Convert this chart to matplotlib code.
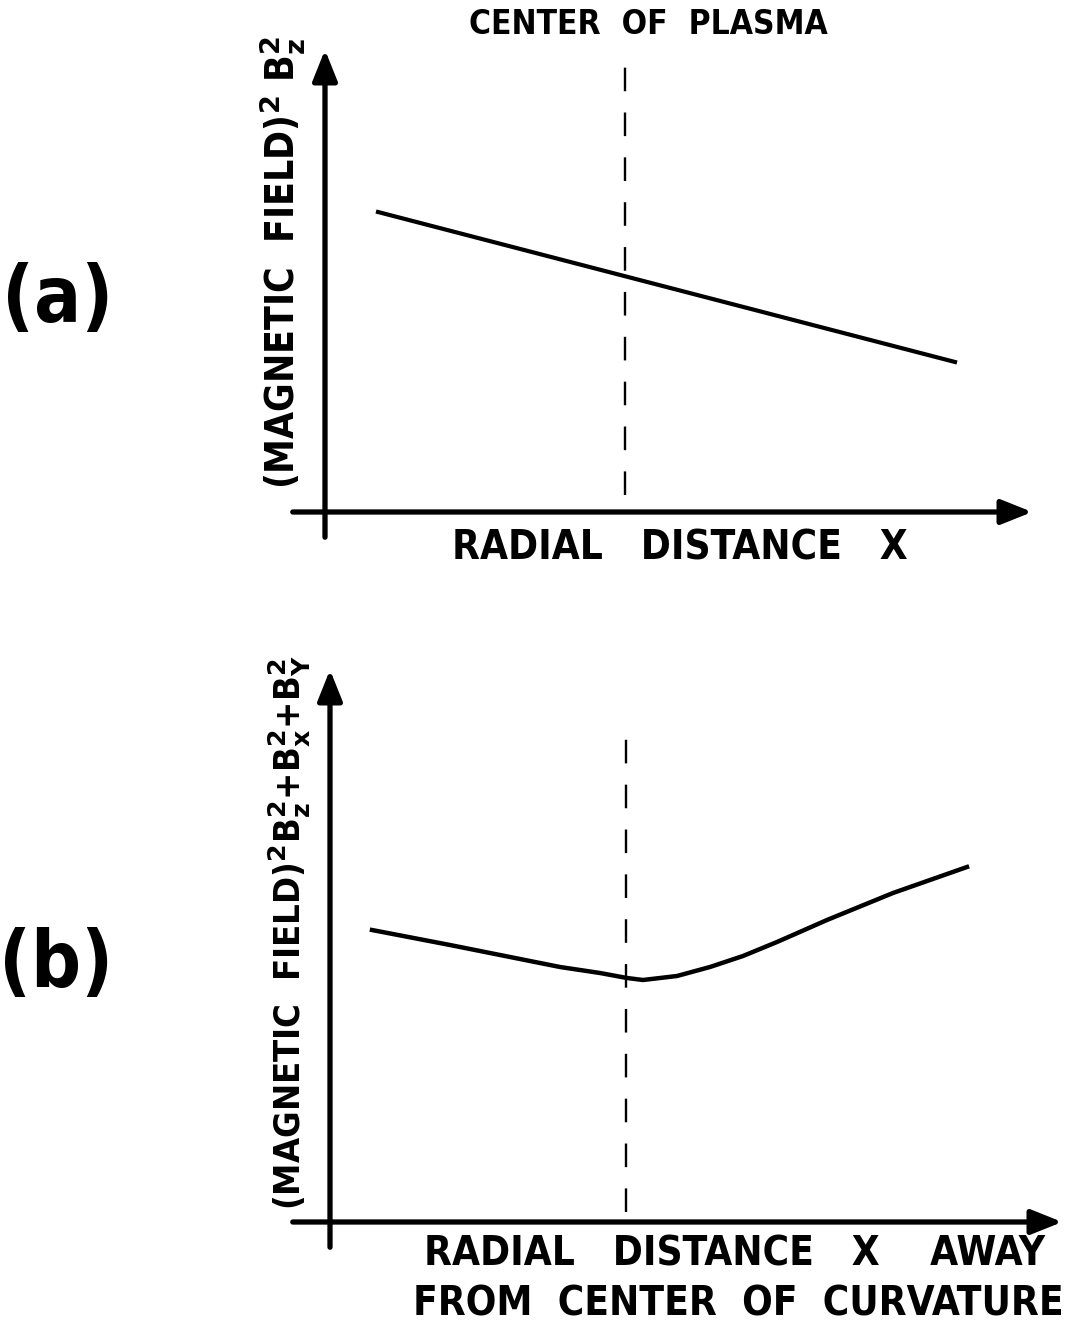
import matplotlib
matplotlib.use("Agg")
import matplotlib.pyplot as plt

# panel (a): straight falling line of B_z^2 vs radial distance
x_a = [0.53, 6.30]
y_a = [3.00, 1.50]
center_a = 3.0

# panel (b): total field squared, minimum near the plasma centre
x_b = [0.42, 1.20, 2.30, 2.70, 2.97, 3.13, 3.47, 3.80, 4.13, 4.47, 4.97, 5.63, 6.37]
y_b = [2.92, 2.77, 2.55, 2.49, 2.44, 2.42, 2.46, 2.55, 2.66, 2.80, 3.02, 3.29, 3.55]
center_b = 2.96

plt.rcParams['mathtext.fontset'] = 'custom'
plt.rcParams['mathtext.rm'] = 'DejaVu Sans:bold'
plt.rcParams['mathtext.bf'] = 'DejaVu Sans:bold'
plt.rcParams['mathtext.default'] = 'bf'
plt.rcParams['font.family'] = 'DejaVu Sans'

fig = plt.figure(figsize=(10.89, 13.28), dpi=100)
ax_a = fig.add_axes([0, 0.5, 1, 0.5])
ax_b = fig.add_axes([0, 0, 1, 0.5])

ax_a.set_xlim(-3.25, 7.64)
ax_a.set_ylim(-1.52, 5.12)
ax_b.set_xlim(-3.30, 7.59)
ax_b.set_ylim(-1.06, 5.58)

def draw_axes(ax, x_end, y_end, x_start, y_start):
    arrow = dict(arrowstyle='-|>,head_length=0.55,head_width=0.22', lw=3.8,
                 color='black', mutation_scale=34)
    ax.annotate('', xy=(x_end, 0), xytext=(x_start, 0), arrowprops=arrow)
    ax.annotate('', xy=(0, y_end), xytext=(0, y_start), arrowprops=arrow)

txt = dict(color='black', fontsize=29, ha='center', va='center',
           fontweight='bold', fontstretch='condensed')
panel_txt = dict(color='black', fontsize=56, ha='center', va='center',
                 fontweight='bold', fontstretch='condensed')

# ---- panel (a)
draw_axes(ax_a, 7.10, 4.65, -0.35, -0.28)
ax_a.plot([center_a, center_a], [0.17, 4.60], color='black', lw=1.7, linestyle=(0, (10, 9)))
ax_a.plot(x_a, y_a, color='black', lw=3)
ax_a.text(3.23, 4.87, 'CENTER  OF  PLASMA', **dict(txt, fontsize=24))
ax_a.text(3.55, -0.36, 'RADIAL   DISTANCE   X', **txt)
ax_a.text(-0.42, 2.49, r'(MAGNETIC  FIELD)$^{2}$ B$_{z}^{2}$', rotation=90, **dict(txt, fontsize=28))
ax_a.text(-2.67, 2.12, '(a)', **panel_txt)

# ---- panel (b)
draw_axes(ax_b, 7.35, 5.55, -0.40, -0.28)
ax_b.plot([center_b, center_b], [0.10, 4.90], color='black', lw=1.7, linestyle=(0, (10, 9)))
ax_b.plot(x_b, y_b, color='black', lw=3.2)
ax_b.text(4.05, -0.33, 'RADIAL   DISTANCE   X    AWAY', **txt)
ax_b.text(4.08, -0.83, 'FROM  CENTER  OF  CURVATURE', **txt)
ax_b.text(-0.40, 2.89, r'(MAGNETIC  FIELD)$^{2}$B$_{z}^{2}$+B$_{x}^{2}$+B$_{Y}^{2}$',
          rotation=90, **dict(txt, fontsize=26))
ax_b.text(-2.74, 2.57, '(b)', **panel_txt)

for ax in (ax_a, ax_b):
    ax.axis('off')

fig.savefig('out.png', dpi=100, facecolor='white')
